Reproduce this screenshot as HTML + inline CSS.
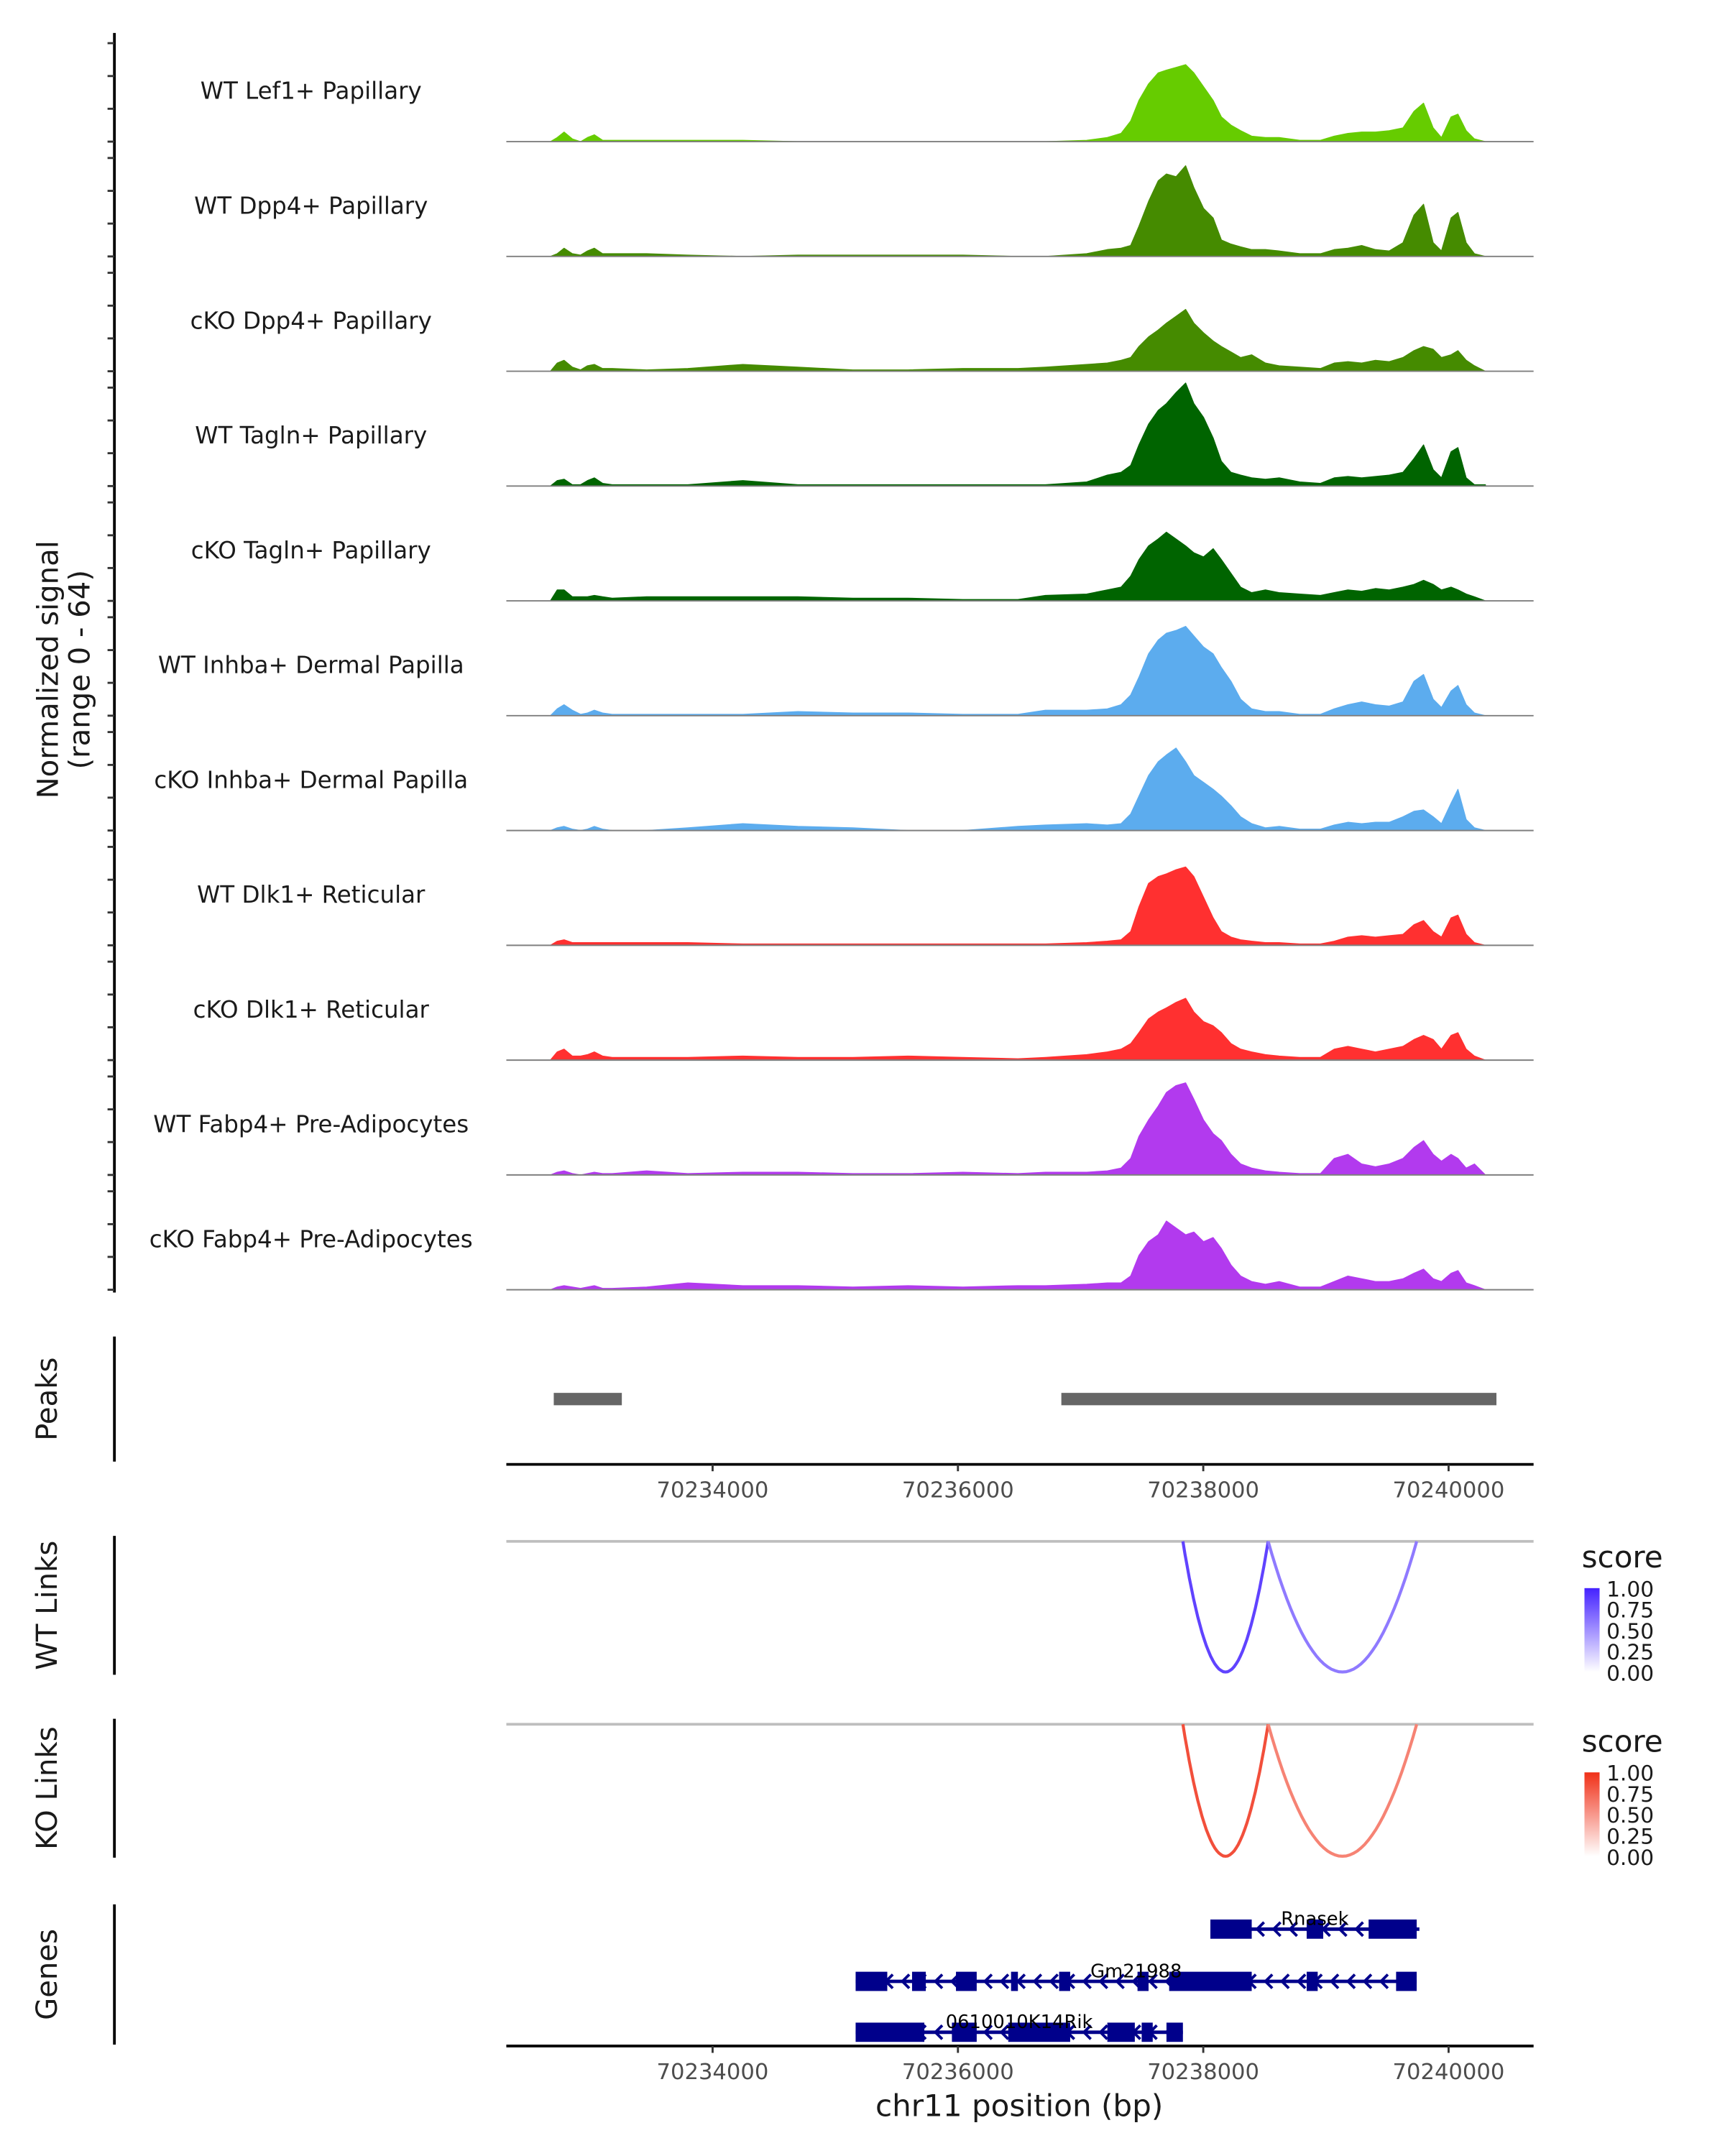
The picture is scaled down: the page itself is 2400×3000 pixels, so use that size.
<!DOCTYPE html>
<html><head><meta charset="utf-8"><style>
html,body{margin:0;padding:0;background:#fff}
svg{display:block}
text{font-family:"DejaVu Sans","Liberation Sans",sans-serif}
</style></head><body>
<svg id="chart" width="2400" height="3000" viewBox="0 0 1254 1568" xmlns="http://www.w3.org/2000/svg">
<g id="tracks"></g>
<g id="rest"></g>
</svg>
<script>
const positions=[70232677,70232733,70232789,70232856,70232924,70232980,70233036,70233103,70233182,70233462,70233798,70234247,70234695,70235144,70235592,70236040,70236489,70236713,70237049,70237218,70237330,70237408,70237475,70237554,70237632,70237700,70237778,70237857,70237924,70238002,70238081,70238148,70238227,70238305,70238395,70238507,70238619,70238787,70238955,70239067,70239179,70239292,70239404,70239516,70239628,70239718,70239796,70239875,70239942,70240020,70240076,70240144,70240211,70240301];
const trackNames=["WT Lef1+ Papillary","WT Dpp4+ Papillary","cKO Dpp4+ Papillary","WT Tagln+ Papillary","cKO Tagln+ Papillary","WT Inhba+ Dermal Papilla","cKO Inhba+ Dermal Papilla","WT Dlk1+ Reticular","cKO Dlk1+ Reticular","WT Fabp4+ Pre-Adipocytes","cKO Fabp4+ Pre-Adipocytes"];
const trackColors=["#66CC00","#458B00","#458B00","#006400","#006400","#5CACEE","#5CACEE","#FF3030","#FF3030","#B23AEE","#B23AEE"];
const sLef1WT=[0,3,7,2,0,3,5,1,1,1,1,1,0,0,0,0,0,0,1,3,6,15,30,42,50,52,54,56,50,40,30,18,12,8,4,3,3,1,1,4,6,7,7,8,10,22,28,10,3,18,20,8,2,0];
const sDpp4WT=[0,2,6,2,1,4,6,2,2,2,1,0,1,1,1,1,0,0,2,5,6,8,22,40,55,60,58,66,50,35,28,12,9,7,5,5,4,2,2,5,6,8,5,4,10,30,38,10,4,28,32,10,2,0];
const sDpp4KO=[0,6,8,3,1,4,5,2,2,1,2,5,3,1,1,2,2,3,5,6,8,10,18,25,30,35,40,45,35,28,22,18,14,10,12,6,4,3,2,6,7,6,8,7,10,15,18,16,10,12,15,8,4,0];
const sTaglnWT=[0,4,5,1,1,4,6,2,1,1,1,4,1,1,1,1,1,1,3,8,10,15,30,45,55,60,68,75,60,50,35,18,10,8,6,5,6,3,2,6,7,6,7,8,10,20,30,12,6,25,28,6,1,1];
const sTaglnKO=[0,8,8,3,3,3,4,3,2,3,3,3,3,2,2,1,1,4,5,8,10,18,30,40,45,50,45,40,35,32,38,30,20,10,6,8,6,5,4,6,8,7,9,8,10,12,15,12,8,10,8,5,3,0];
const sInhbaWT=[0,5,8,4,1,2,4,2,1,1,1,1,3,2,2,1,1,4,4,5,8,15,28,45,55,60,62,65,58,50,45,35,25,12,5,3,3,1,1,5,8,10,8,7,10,25,30,12,6,18,22,8,2,0];
const sInhbaKO=[0,2,3,1,0,1,3,1,0,0,2,5,3,2,0,0,3,4,5,4,5,12,25,40,50,55,60,50,40,35,30,25,18,10,5,2,3,1,1,4,6,5,6,6,10,14,15,10,5,20,30,8,2,0];
const sDlk1WT=[0,3,4,2,2,2,2,2,2,2,2,1,1,1,1,1,1,1,2,3,4,10,28,45,50,52,55,57,50,35,20,10,6,4,3,2,2,1,1,3,6,7,6,7,8,15,18,10,6,20,22,8,2,0];
const sDlk1KO=[0,6,8,3,3,4,6,3,2,2,2,3,2,2,3,2,1,2,4,6,8,12,20,30,35,38,42,45,35,28,25,20,12,8,6,4,3,2,2,8,10,8,6,8,10,15,18,15,8,18,20,8,3,0];
const sFabp4WT=[0,2,3,1,0,1,2,1,1,3,1,2,2,1,1,2,1,2,2,3,5,12,28,40,50,60,65,67,55,40,30,25,15,8,5,3,2,1,1,12,15,8,6,8,12,20,25,15,10,15,12,5,8,0];
const sFabp4KO=[0,2,3,2,1,2,3,1,1,2,5,3,3,2,3,2,3,3,4,5,5,10,25,35,40,50,45,40,42,35,38,30,18,10,6,4,6,2,2,6,10,8,6,6,8,12,15,8,6,12,14,5,3,0];
const signals=[sLef1WT,sDpp4WT,sDpp4KO,sTaglnWT,sTaglnKO,sInhbaWT,sInhbaKO,sDlk1WT,sDlk1KO,sFabp4WT,sFabp4KO];
const xTicks=[70234000,70236000,70238000,70240000];
const peakStarts=[70232705,70236843];
const peakEnds=[70233260,70240390];
const wtLinkStarts=[70237834,70238529];
const wtLinkEnds=[70238529,70239740];
const wtLinkScores=[0.85,0.6];
const koLinkStarts=[70237834,70238529];
const koLinkEnds=[70238529,70239740];
const koLinkScores=[0.85,0.6];
const geneNames=["Rnasek","Gm21988","0610010K14Rik"];
const geneStarts=[70238058,70235166,70235166];
const geneEnds=[70239762,70239740,70237834];
const geneExonStarts=[[70238058,70238843,70239348],[70235166,70235626,70235984,70236433,70236825,70237464,70237722,70238843,70239572],[70235166,70235951,70236410,70237218,70237498,70237700]];
const geneExonEnds=[[70238395,70238978,70239740],[70235424,70235738,70236153,70236489,70236915,70237554,70238395,70238933,70239740],[70235726,70236153,70236915,70237442,70237588,70237834]];
const legendLabels=["1.00","0.75","0.50","0.25","0.00"];

const NS="http://www.w3.org/2000/svg";
function mk(tag,attrs,parent,txt){const e=document.createElementNS(NS,tag);for(const k in attrs)e.setAttribute(k,attrs[k]);if(txt!==undefined)e.textContent=txt;parent.appendChild(e);return e;}
const X0=368,X1=1115;
function xs(bp){return 518+(bp-70234000)*0.0892;}
const trackH=80, yMax=80;
function ys(v,base){return base-v/yMax*trackH;}
const T=document.getElementById('tracks'), R=document.getElementById('rest');

let ax=mk('line',{x1:83,y1:24,x2:83,y2:940,stroke:'#000','stroke-width':2},T);


let yl=mk('text',{x:0,y:0,'font-size':21,'text-anchor':'middle',fill:'#1a1a1a',transform:'translate(42,487) rotate(-90)'},T);


mk('tspan',{x:0,dy:0},yl,'Normalized signal');
mk('tspan',{x:0,dy:23},yl,'(range 0 - 64)');

signals.forEach((s,i)=>{
  const base=103+i*83.5;
  const g=mk('g',{},T);
  
  
  [71.6,47.7,23.9,0].forEach(o=>{const t=mk('line',{x1:78,x2:83,y1:base-o,y2:base-o,stroke:'#333','stroke-width':1.5},g);
    
    });
  let d='M'+xs(positions[0])+','+base;
  positions.forEach((p,j)=>{d+=' L'+xs(p).toFixed(1)+','+ys(s[j],base).toFixed(1);});
  d+=' L'+xs(positions[positions.length-1])+','+base+' Z';
  const a=mk('path',{d:d,fill:trackColors[i],stroke:trackColors[i],'stroke-width':0.6,'stroke-linejoin':'round'},g);
  
  
  const bl=mk('line',{x1:X0,x2:X1,y1:base,y2:base,stroke:'#7f7f7f','stroke-width':1},g);
  
  
  const lb=mk('text',{x:226,y:base-31,'font-size':17,'text-anchor':'middle',fill:'#1a1a1a'},g,trackNames[i]);
  
  
});

function leftPanel(y1,y2,label){
  const l=mk('line',{x1:83,x2:83,y1:y1,y2:y2,stroke:'#000','stroke-width':2},R);
  
  
  const t=mk('text',{x:0,y:0,'font-size':21,'text-anchor':'middle',fill:'#1a1a1a',transform:'translate(41,'+((y1+y2)/2)+') rotate(-90)'},R,label);
  
  
}
function xAxis(y,name){
  const g=mk('g',{},R);
  
  
  mk('line',{x1:X0,x2:X1,y1:y,y2:y,stroke:'#000','stroke-width':2},g);
  xTicks.forEach(t=>{mk('line',{x1:xs(t),x2:xs(t),y1:y,y2:y+5,stroke:'#333','stroke-width':1.5},g);
    const tx=mk('text',{x:xs(t),y:y+24,'font-size':16,'text-anchor':'middle',fill:'#4d4d4d'},g,String(t));
    
    });
}
leftPanel(972,1063,'Peaks');
peakStarts.forEach((s,i)=>{const r=mk('rect',{x:xs(s),y:1013,width:xs(peakEnds[i])-xs(s),height:9,fill:'#666'},R);
  
  });
xAxis(1065,'peaks-x-axis');

function links(base,depth,starts,ends,scores,hi,label,legY){
  leftPanel(base-4,base+97,label);
  const bl=mk('line',{x1:X0,x2:X1,y1:base,y2:base,stroke:'#bebebe','stroke-width':2},R);
  
  
  starts.forEach((s,i)=>{
    const a=xs(s),b=xs(ends[i]);let d='';
    for(let k=0;k<=40;k++){const t=k/40;const x=a+(b-a)*t;const y=base+depth*(1-Math.pow(2*t-1,2));d+=(k?' L':'M')+x.toFixed(1)+','+y.toFixed(1);}
    const c=scores[i];
    const col='rgb('+Math.round(255-(255-hi[0])*c)+','+Math.round(255-(255-hi[1])*c)+','+Math.round(255-(255-hi[2])*c)+')';
    const p=mk('path',{d:d,fill:'none',stroke:col,'stroke-width':2.2},R);
    
    
  });
  const gid='grad'+legY;
  const defs=mk('defs',{},R);
  const lg=mk('linearGradient',{id:gid,x1:0,y1:0,x2:0,y2:1},defs);
  mk('stop',{offset:0,'stop-color':'rgb('+hi.join(',')+')'},lg);
  mk('stop',{offset:1,'stop-color':'#fff'},lg);
  const lgG=mk('g',{},R);
  
  
  mk('text',{x:1150,y:legY,'font-size':22,fill:'#1a1a1a'},lgG,'score');
  mk('rect',{x:1152,y:legY+15,width:11,height:61,fill:'url(#'+gid+')'},lgG);
  legendLabels.forEach((l,k)=>{mk('text',{x:1168,y:legY+21+k*15.3,'font-size':15.5,fill:'#1a1a1a'},lgG,l);});
}
links(1121,95,wtLinkStarts,wtLinkEnds,wtLinkScores,[68,34,255],'WT Links',1140);
links(1254,96,koLinkStarts,koLinkEnds,koLinkScores,[240,48,24],'KO Links',1274);

leftPanel(1385,1487,'Genes');
const rowY=[1403,1441,1478];
geneNames.forEach((n,i)=>{
  const g=mk('g',{},R);
  
  
  const y=rowY[i],a=xs(geneStarts[i]),b=xs(geneEnds[i]);
  mk('line',{x1:a,x2:b,y1:y,y2:y,stroke:'#00008B','stroke-width':2.5},g);
  for(let x=a+12;x<b-5;x+=12){mk('path',{d:'M'+(x+3)+','+(y-5)+' L'+(x-2)+','+y+' L'+(x+3)+','+(y+5),fill:'none',stroke:'#00008B','stroke-width':2},g);}
  geneExonStarts[i].forEach((s,k)=>{mk('rect',{x:xs(s),y:y-7,width:xs(geneExonEnds[i][k])-xs(s),height:14,fill:'#00008B'},g);});
  const t=mk('text',{x:(a+b)/2,y:y-3,'font-size':13.5,'text-anchor':'middle',fill:'#000'},g,n);
  
  
});
xAxis(1488,'genomic-x-axis');
const xt=mk('text',{x:741,y:1539,'font-size':22,'text-anchor':'middle',fill:'#1a1a1a'},R,'chr11 position (bp)');


</script>
</body></html>
